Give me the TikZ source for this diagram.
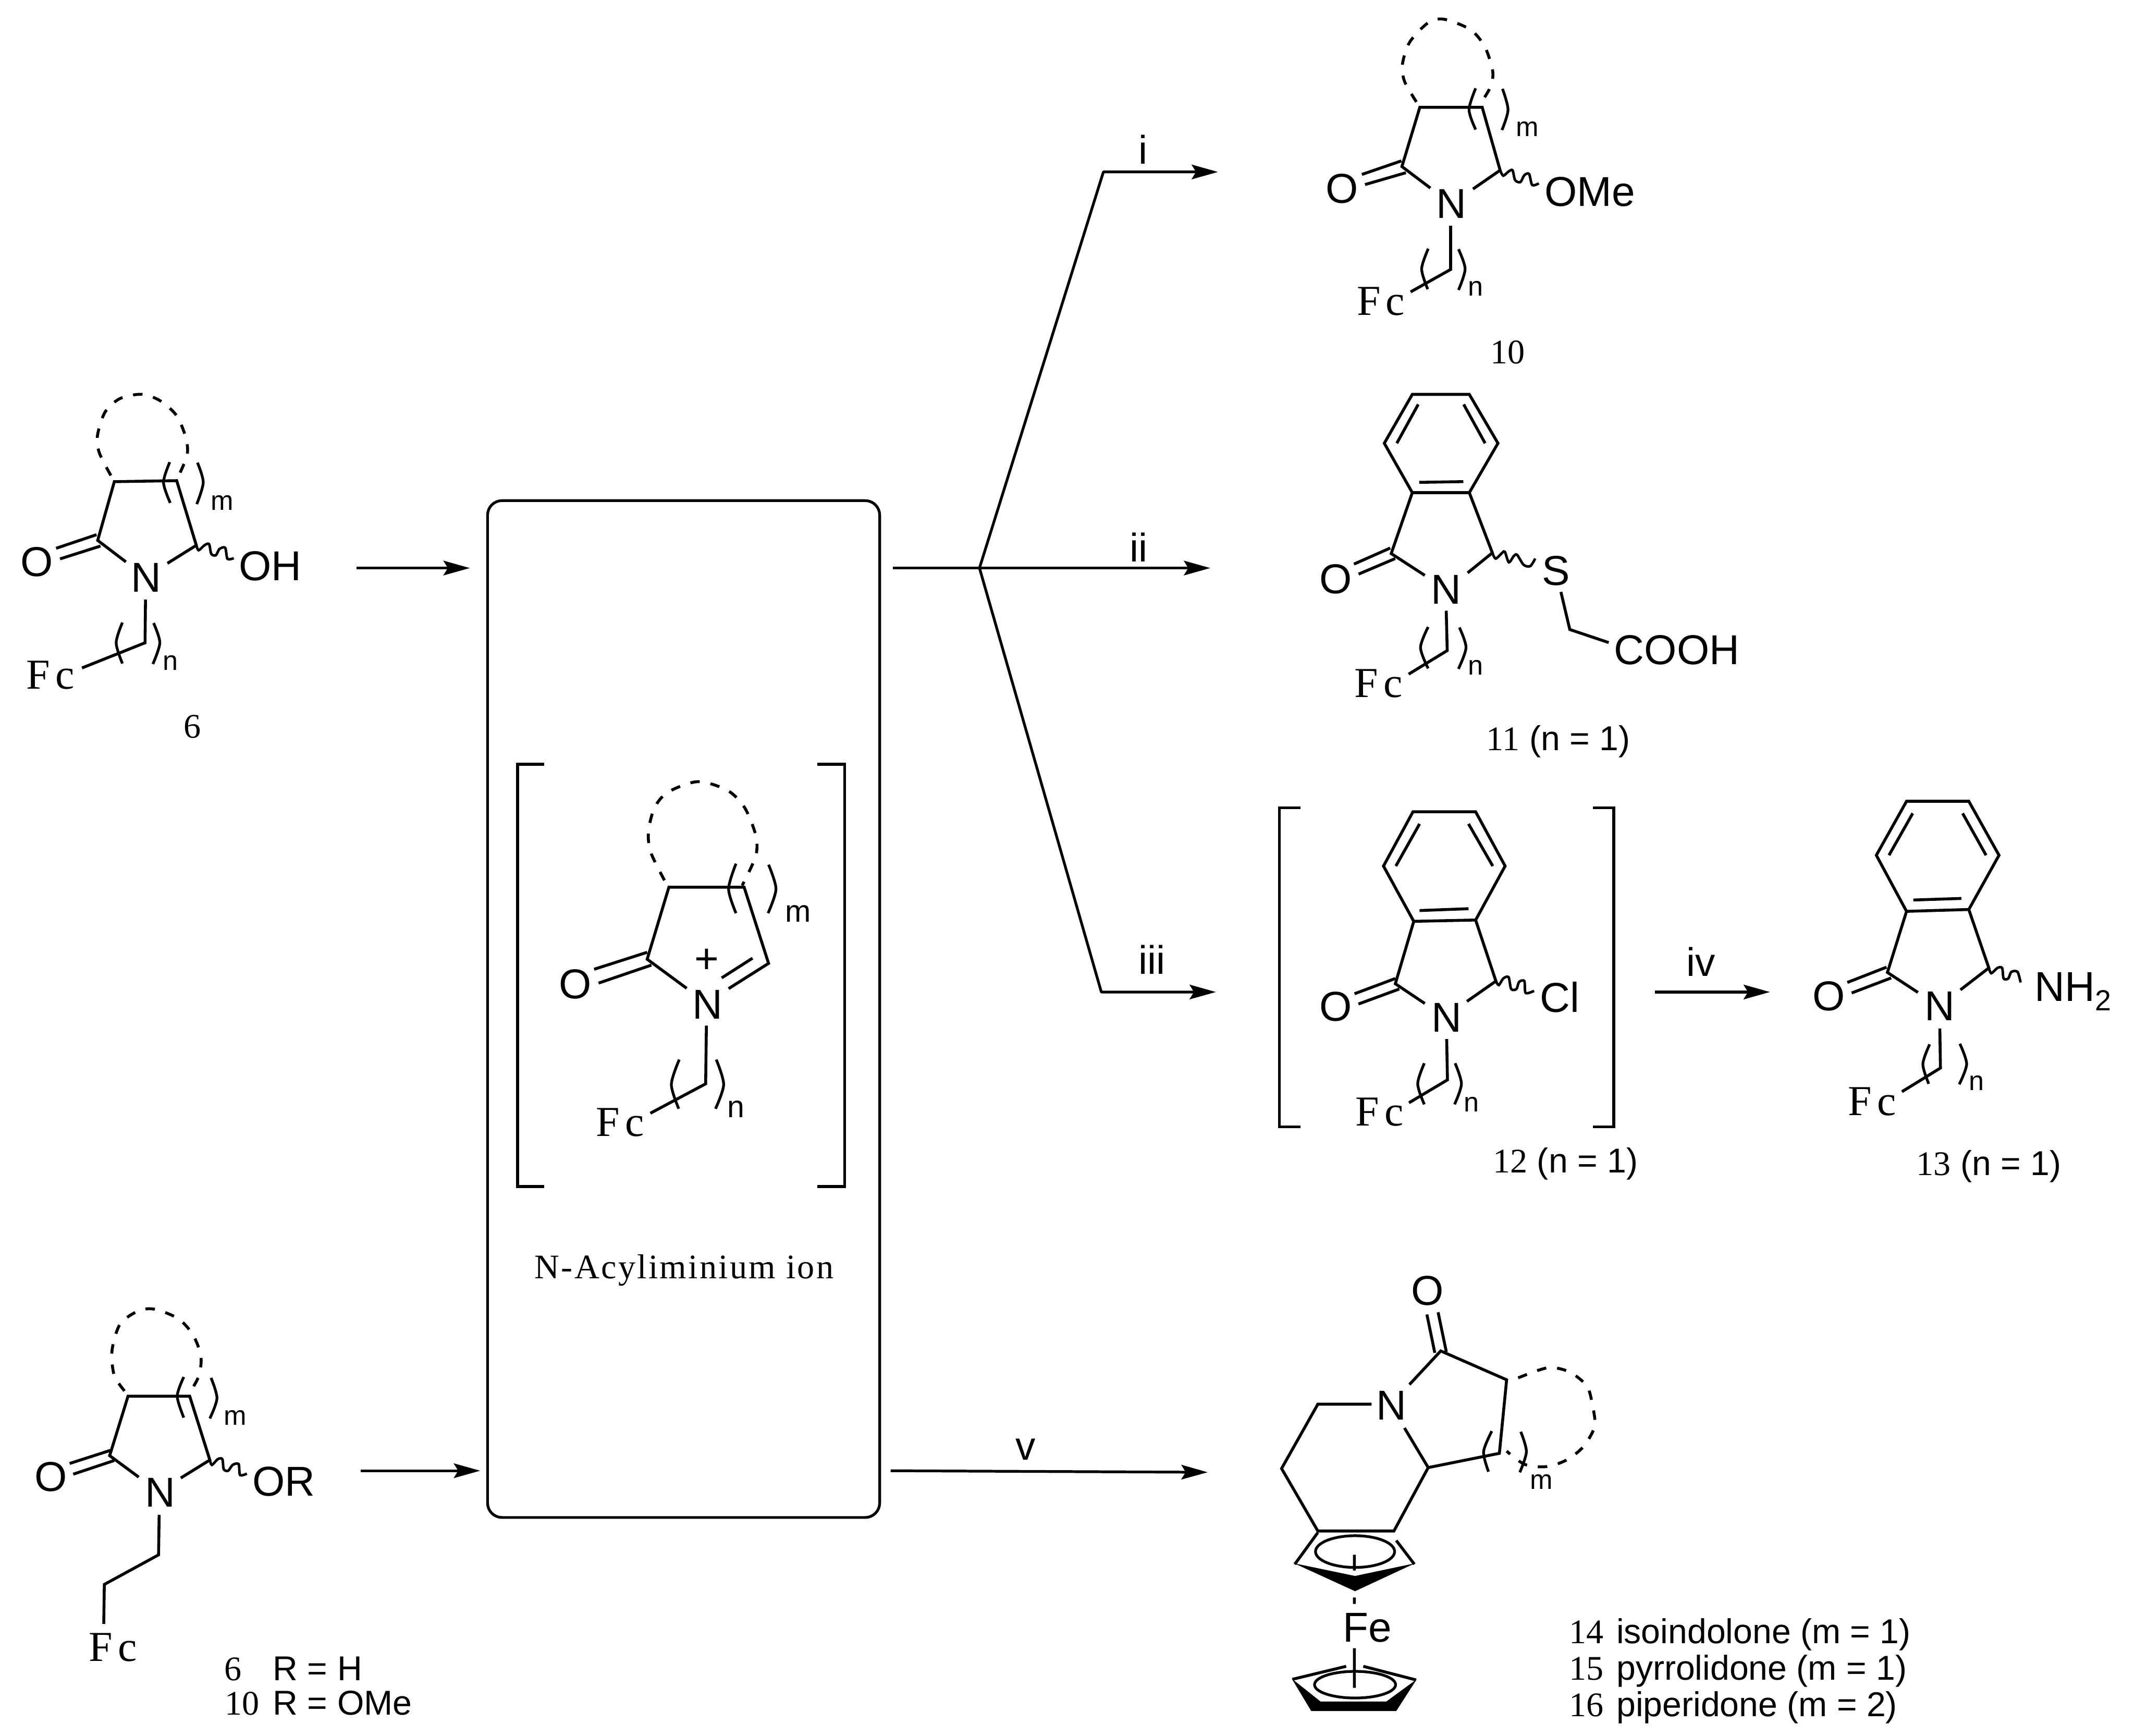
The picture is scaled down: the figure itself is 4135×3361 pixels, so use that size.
\documentclass[tikz,border=0pt]{standalone}
\usepackage{fontspec}
\setmainfont{Liberation Sans}
\newfontfamily\serfam{Liberation Serif}
\newfontfamily\spfam[LetterSpace=5]{Liberation Serif}
\usetikzlibrary{arrows.meta}
\tikzset{
  zm/.style n args={4}{shift={(#1,#2)},x=#3cm,y=-#4cm},
  atm/.style={inner sep=0pt,anchor=base,font=\fontsize{23}{26}\selectfont},
  fcn/.style={inner sep=0pt,anchor=base,font=\serfam\fontsize{23.5}{26}\selectfont},
  sub/.style={inner sep=0pt,anchor=base,font=\fontsize{15}{17}\selectfont},
  lab/.style={inner sep=0pt,anchor=base,font=\fontsize{19}{22}\selectfont},
  rxl/.style={inner sep=0pt,anchor=base,font=\fontsize{22}{24}\selectfont},
  bond/.style={line width=1.6pt,line join=miter},
  brk/.style={line width=1.5pt},
  ring/.style={line width=1.6pt,dash pattern=on 5.2pt off 6pt},
  wav/.style={line width=1.4pt},
  sqb/.style={line width=1.6pt,line join=miter},
  rxn/.style={line width=1.5pt,line join=round,-{Stealth[length=14.5pt,width=8pt,inset=2.4pt]}},
}
\newcommand\parens[6]{\draw[brk] plot[smooth] coordinates {#1 #2 #3}; \draw[brk] plot[smooth] coordinates {#4 #5 #6};}
\newcommand\atomat[4]{\node[atm] (#1) at (#2,#3) {#4};}
\begin{document}
\begin{tikzpicture}[x=0.01cm,y=-0.01cm]
\useasboundingbox (0,0) rectangle (4135,3361);

% box
\node[draw,line width=1.5pt,rounded corners=8pt,minimum width=7.59cm,minimum height=19.68cm,inner sep=0pt] (box) at (1324,1954) {};

% compound 6 top
\begin{scope}[zm={0}{700}{.004464}{.004783}]
\draw[bond] (243,757)--(418,702) (260,800)--(435,748) (545,812)--(423,725)--(495,487)--(765,483)--(850,745)--(725,818) (630,965)--(628,1140)--(355,1242);
\draw[ring] plot[smooth] coordinates {(480,462)(430,370)(422,300)(455,205)(520,150)(615,133)(695,160)(765,220)(805,310)(810,380)(770,470)};
\draw[wav] plot[smooth] coordinates {(850,745)(860,765)(885,745)(905,740)(915,780)(935,785)(950,760)(975,755)(985,800)(1012,797)};
\parens{(735,408)}{(708,490)}{(737,573)}{(855,410)}{(880,490)}{(852,578)}
\parens{(530,1058)}{(503,1140)}{(530,1224)}{(665,1060)}{(692,1140)}{(662,1226)}
\atomat{oa}{160}{870}{O} \atomat{na}{633}{935}{N} \atomat{oha}{1170}{887}{OH}
\node[fcn] (fa) at (219,1328) {F\kern3pt c};
\node[sub] (ma) at (962,603) {m}; \node[sub] (nsa) at (737,1250) {n};
\node[lab] (la) at (833,1525) {\serfam 6};
\end{scope}

% compound 10 top
\begin{scope}[zm={2450}{0}{.005102}{.004783}]
\draw[bond] (368,707)--(518,652) (380,748)--(535,700) (628,762)--(520,675)--(588,435)--(825,435)--(893,690)--(790,766) (705,915)--(705,1092)--(553,1183);
\draw[ring] plot[smooth] coordinates {(575,413)(530,330)(522,260)(550,170)(620,92)(680,78)(780,120)(835,190)(865,290)(855,355)(815,425)};
\draw[wav] plot[smooth] coordinates {(893,690)(905,712)(925,695)(940,690)(950,730)(970,738)(985,710)(1003,705)(1015,750)(1040,743)};
\parens{(800,358)}{(775,445)}{(800,525)}{(902,360)}{(923,445)}{(900,527)}
\parens{(620,1008)}{(595,1090)}{(618,1172)}{(735,1010)}{(760,1090)}{(735,1175)}
\atomat{ob}{293}{822}{O} \atomat{nb}{707}{885}{N} \atomat{omeb}{1234}{835}{OMe}
\node[fcn] (fb) at (440,1277) {F\kern3pt c};
\node[sub] (mb) at (996,552) {m}; \node[sub] (nsb) at (800,1200) {n};
\node[lab] (lb) at (922,1473) {\serfam 10};
\end{scope}

% N-acyliminium
\begin{scope}[zm={950}{1450}{.004783}{.006696}]
\draw[bond] (420,637)--(635,588) (438,677)--(652,625) (795,692)--(635,608)--(723,400)--(1028,400)--(1127,620)--(965,693) (1062,605)--(937,662) (875,800)--(872,968)--(648,1053);
\draw[ring] plot[smooth] coordinates {(705,380)(650,300)(640,240)(665,170)(720,125)(840,95)(960,120)(1030,170)(1075,250)(1075,310)(1020,395)};
\parens{(995,332)}{(965,405)}{(995,475)}{(1127,335)}{(1157,405)}{(1125,475)}
\parens{(765,898)}{(733,970)}{(763,1040)}{(915,898)}{(945,970)}{(912,1040)}
\draw[sqb] (218,45)--(110,45)--(110,1265)--(218,1265) (1325,45)--(1435,45)--(1435,1265)--(1325,1265);
\atomat{oc}{343}{722}{O} \atomat{nc}{880}{780}{N}
\node[atm] (plusc) at (877,648) {+};
\node[fcn] (fc) at (525,1120) {F\kern3pt c};
\node[sub,font=\fontsize{17}{19}\selectfont] (mc) at (1247,500) {m};
\node[sub,font=\fontsize{17}{19}\selectfont] (nsc) at (995,1065) {n};
\node[inner sep=0pt,anchor=base,font=\spfam\fontsize{19}{22}\selectfont] (acyl) at (785,1530) {N-Acyliminium ion};
\end{scope}

% compound 11
\begin{scope}[zm={2450}{720}{.006378}{.004847}]
\draw[bond] (447,90)--(620,90)--(707,285)--(620,482)--(447,482)--(362,285)--cycle
 (465,130)--(400,285) (603,130)--(668,285) (468,441)--(602,438)
 (447,482)--(383,725)--(485,812) (620,482)--(690,722)--(615,802)
 (270,767)--(380,703) (284,807)--(395,745)
 (898,878)--(925,1028)--(1043,1080) (550,953)--(553,1112)--(436,1206);
\draw[wav] plot[smooth] coordinates {(690,722)(700,745)(720,722)(728,718)(740,760)(755,735)(765,730)(785,770)(805,775)(820,745)};
\parens{(495,1018)}{(472,1100)}{(495,1183)}{(590,1020)}{(610,1100)}{(587,1185)}
\atomat{od}{215}{885}{O} \atomat{nd}{550}{925}{N} \atomat{sd}{883}{852}{S} \atomat{cooh}{1250}{1167}{COOH}
\node[fcn] (fd) at (345,1298) {F\kern3pt c};
\node[sub] (nsd) at (640,1208) {n};
\node[lab] (ld) at (890,1510) {{\serfam 11} (n = 1)};
\end{scope}

% compound 12
\begin{scope}[zm={2450}{1520}{.005102}{.005102}]
\draw[bond] (562,102)--(800,102)--(912,308)--(800,513)--(565,518)--(450,308)--cycle
 (587,148)--(497,308) (773,148)--(865,308) (587,477)--(773,470)
 (565,518)--(495,755)--(607,830) (800,513)--(877,745)--(767,822)
 (340,793)--(495,735) (355,832)--(510,775) (690,965)--(693,1120)--(547,1207);
\draw[wav] plot[smooth] coordinates {(877,745)(888,760)(905,735)(925,730)(935,775)(955,775)(965,748)(985,745)(990,790)(1022,782)};
\parens{(605,1057)}{(580,1135)}{(605,1213)}{(722,1057)}{(746,1135)}{(720,1213)}
\draw[sqb] (135,87)--(55,87)--(55,1298)--(135,1298) (1245,87)--(1325,87)--(1325,1298)--(1245,1298);
\atomat{oe}{268}{897}{O} \atomat{ne}{690}{938}{N} \atomat{cle}{1120}{862}{Cl}
\node[fcn] (fe) at (435,1295) {F\kern3pt c};
\node[sub] (nse) at (785,1240) {n};
\node[lab] (le) at (1141,1472) {{\serfam 12} (n = 1)};
\end{scope}

% compound 13
\begin{scope}[zm={3200}{1520}{.005963}{.005102}]
\draw[bond] (825,62)--(1027,62)--(1125,267)--(1027,473)--(825,480)--(727,267)--cycle
 (845,108)--(768,267) (1007,108)--(1083,267) (847,437)--(1003,431)
 (825,480)--(763,712)--(862,788) (1027,473)--(1092,695)--(1000,778)
 (633,750)--(760,692) (647,790)--(775,733) (933,925)--(935,1075)--(810,1165);
\draw[wav] plot[smooth] coordinates {(1092,695)(1100,715)(1120,695)(1135,695)(1140,735)(1155,735)(1165,710)(1185,710)(1195,750)};
\parens{(900,985)}{(878,1060)}{(897,1135)}{(998,983)}{(1020,1060)}{(996,1137)}
\atomat{of}{573}{857}{O} \atomat{nf}{932}{895}{N}
\node[atm,anchor=base west] (nh) at (1240,822) {NH\raisebox{-5pt}{\fontsize{16}{18}\selectfont 2}};
\node[fcn] (ff) at (713,1255) {F\kern3pt c};
\node[sub] (nsf) at (1052,1160) {n};
\node[lab] (lf) at (1092,1482) {{\serfam 13} (n = 1)};
\end{scope}

% compound bottom left
\begin{scope}[zm={0}{2480}{.00574}{.005619}]
\draw[bond] (235,630)--(372,585) (247,667)--(385,620) (468,677)--(370,603)--(432,398)--(640,398)--(708,618)--(610,680) (537,807)--(535,945)--(352,1047)--(350,1183);
\draw[ring] plot[smooth] coordinates {(420,380)(385,325)(378,240)(405,150)(465,105)(520,98)(600,130)(650,185)(678,260)(670,330)(635,395)};
\draw[wav] plot[smooth] coordinates {(708,618)(715,635)(735,615)(750,615)(755,650)(770,655)(785,635)(805,632)(810,670)(833,665)};
\parens{(620,332)}{(598,398)}{(620,472)}{(712,335)}{(732,405)}{(708,475)}
\atomat{og}{172}{725}{O} \atomat{ng}{540}{780}{N} \atomat{org}{957}{742}{OR}
\node[fcn] (fg) at (381,1312) {F\kern3pt c};
\node[sub] (mg) at (793,498) {m};
\node[lab,anchor=base west] (lg6) at (755,1378) {\serfam 6};
\node[lab,anchor=base west] (lgr) at (920,1378) {R = H};
\node[lab,anchor=base west] (lg10) at (758,1497) {\serfam 10};
\node[lab,anchor=base west] (lgo) at (920,1497) {R = OMe};
\end{scope}

% tricyclic ferrocene
\begin{scope}[zm={2350}{2400}{.006378}{.006129}]
\draw[bond] (480,520)--(317,520)--(207,723)--(317,920)--(548,920)--(652,720)--(580,595)
 (652,720)--(868,675)--(890,443)--(690,352)--(595,458)
 (648,237)--(672,358) (682,230)--(707,355)
 (317,925)--(247,1025) (555,950)--(610,1025);
\fill (245,1022)--(430,1062)--(612,1022)--(430,1110)--cycle;
\draw[brk] (430,985) ellipse [x radius=120,y radius=50];
\draw[bond] (428,995)--(428,1045) (428,1130)--(428,1150) (428,1290)--(428,1415)
 (240,1388)--(403,1347) (455,1347)--(615,1390);
\fill (238,1386)--(325,1458)--(525,1458)--(617,1388)--(555,1488)--(297,1488)--cycle;
\draw[brk] (430,1405) ellipse [x radius=123,y radius=42];
\draw[ring] plot[smooth] coordinates {(925,437)(1015,405)(1080,418)(1133,462)(1150,520)(1157,590)(1122,655)(1070,697)(1010,717)(945,710)(890,668)};
\parens{(845,605)}{(820,670)}{(835,733)}{(933,607)}{(950,670)}{(930,735)}
\atomat{oh}{650}{207}{O} \atomat{nh2}{540}{570}{N} \atomat{feh}{468}{1270}{Fe}
\node[sub] (mh) at (995,788) {m};
\end{scope}

% list
\node[lab,anchor=base west] (l14a) at (3038,3182) {\serfam 14};
\node[lab,anchor=base west] (l14) at (3130,3182) {isoindolone (m = 1)};
\node[lab,anchor=base west] (l15a) at (3038,3253) {\serfam 15};
\node[lab,anchor=base west] (l15) at (3130,3253) {pyrrolidone (m = 1)};
\node[lab,anchor=base west] (l16a) at (3038,3324) {\serfam 16};
\node[lab,anchor=base west] (l16) at (3130,3324) {piperidone (m = 2)};

% connectors
\coordinate (a1s) at (691,1100); \coordinate (a1e) at (910,1100);
\coordinate (a2s) at (699,2848); \coordinate (a2e) at (930,2848);
\coordinate (st) at (1729,1100); \coordinate (j) at (1897,1100);
\coordinate (ci) at (2137,333); \coordinate (ei) at (2359,333);
\coordinate (eii) at (2344,1100);
\coordinate (ciii) at (2133,1921); \coordinate (eiii) at (2355,1921);
\coordinate (siv) at (3205,1921); \coordinate (eiv) at (3428,1921);
\coordinate (sv) at (1725,2848); \coordinate (ev) at (2339,2851);
\draw[rxn] (a1s)--(a1e);
\draw[rxn] (a2s)--(a2e);
\draw[rxn] (st)--(eii);
\draw[rxn] (j)--(ci)--(ei);
\draw[rxn] (j)--(ciii)--(eiii);
\draw[rxn] (siv)--(eiv);
\draw[rxn] (sv)--(ev);
\node[rxl] (ri) at (2214,317) {i};
\node[rxl] (rii) at (2205,1088) {ii};
\node[rxl] (riii) at (2231,1886) {iii};
\node[rxl] (riv) at (3294,1890) {iv};
\node[rxl] (rv) at (1986,2827) {v};
\end{tikzpicture}
\end{document}
